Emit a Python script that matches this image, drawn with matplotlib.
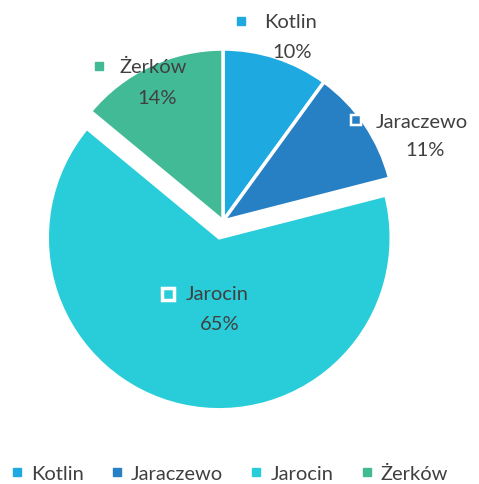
import matplotlib.pyplot as plt
from matplotlib.lines import Line2D

plt.rcParams['font.family'] = ['Lato', 'DejaVu Sans']

labels = ['Kotlin', 'Jaraczewo', 'Jarocin', 'Żerków']
values = [10, 11, 65, 14]
colors = ['#1fa9e1', '#2780c4', '#29cdd9', '#43ba96']
explode = [0, 0, 0.1, 0]

# pie centre and radius in pixels
cx, cy, R = 223, 222, 172
W, H = 479, 485


def to_data(px, py):
    return (px - cx) / R, (cy - py) / R


# label anchors (pixel positions: square marker, name, percent)
label_pos = {
    'Kotlin': ((241, 22), (264, 22), (292, 52)),
    'Jaraczewo': ((356, 121), (376, 122), (425, 151)),
    'Jarocin': ((168, 295), (186, 295), (220, 325)),
    'Żerków': ((99, 67), (119, 67), (157, 98)),
}
marker_edge = {'Kotlin': None, 'Jaraczewo': 2.5, 'Jarocin': 3.5, 'Żerków': None}
marker_size = {'Kotlin': 6, 'Jaraczewo': 7.5, 'Jarocin': 8.5, 'Żerków': 6}

fig = plt.figure(figsize=(W / 100, H / 100), dpi=100)
ax = fig.add_axes([0, 0, 1, 1])
ax.pie(values, colors=colors, explode=explode, startangle=90, counterclock=False,
       radius=1, wedgeprops=dict(edgecolor='white', linewidth=2.5))
ax.set_xlim(-cx / R, (W - cx) / R)
ax.set_ylim(-(H - cy) / R, cy / R)
ax.set_aspect('auto')
ax.axis('off')

txt = '#404040'
fs = 14.5
for name, val, col in zip(labels, values, colors):
    (mx, my), (nx, ny), (vx, vy) = label_pos[name]
    x, y = to_data(mx, my)
    ms = marker_size[name]
    if marker_edge[name]:
        ax.plot(x, y, 's', ms=ms, mfc=col, mec='white', mew=marker_edge[name] / 1.39)
    else:
        ax.plot(x, y, 's', ms=ms, mfc=col, mec=col)
    x, y = to_data(nx, ny)
    ax.text(x, y, name, fontsize=fs, color=txt, ha='left', va='center')
    x, y = to_data(vx, vy)
    ax.text(x, y, f'{val}%', fontsize=fs, color=txt, ha='center', va='center')

handles = [Line2D([], [], ls='', marker='s', ms=6, mfc=c, mec=c) for c in colors]
fig.legend(handles, labels, loc='lower center', ncol=4, frameon=False,
           bbox_to_anchor=(0.48, -0.034), fontsize=fs, labelcolor=txt,
           handlelength=0.5, handletextpad=0.45, columnspacing=1.4)

fig.savefig('out.png', dpi=100)
